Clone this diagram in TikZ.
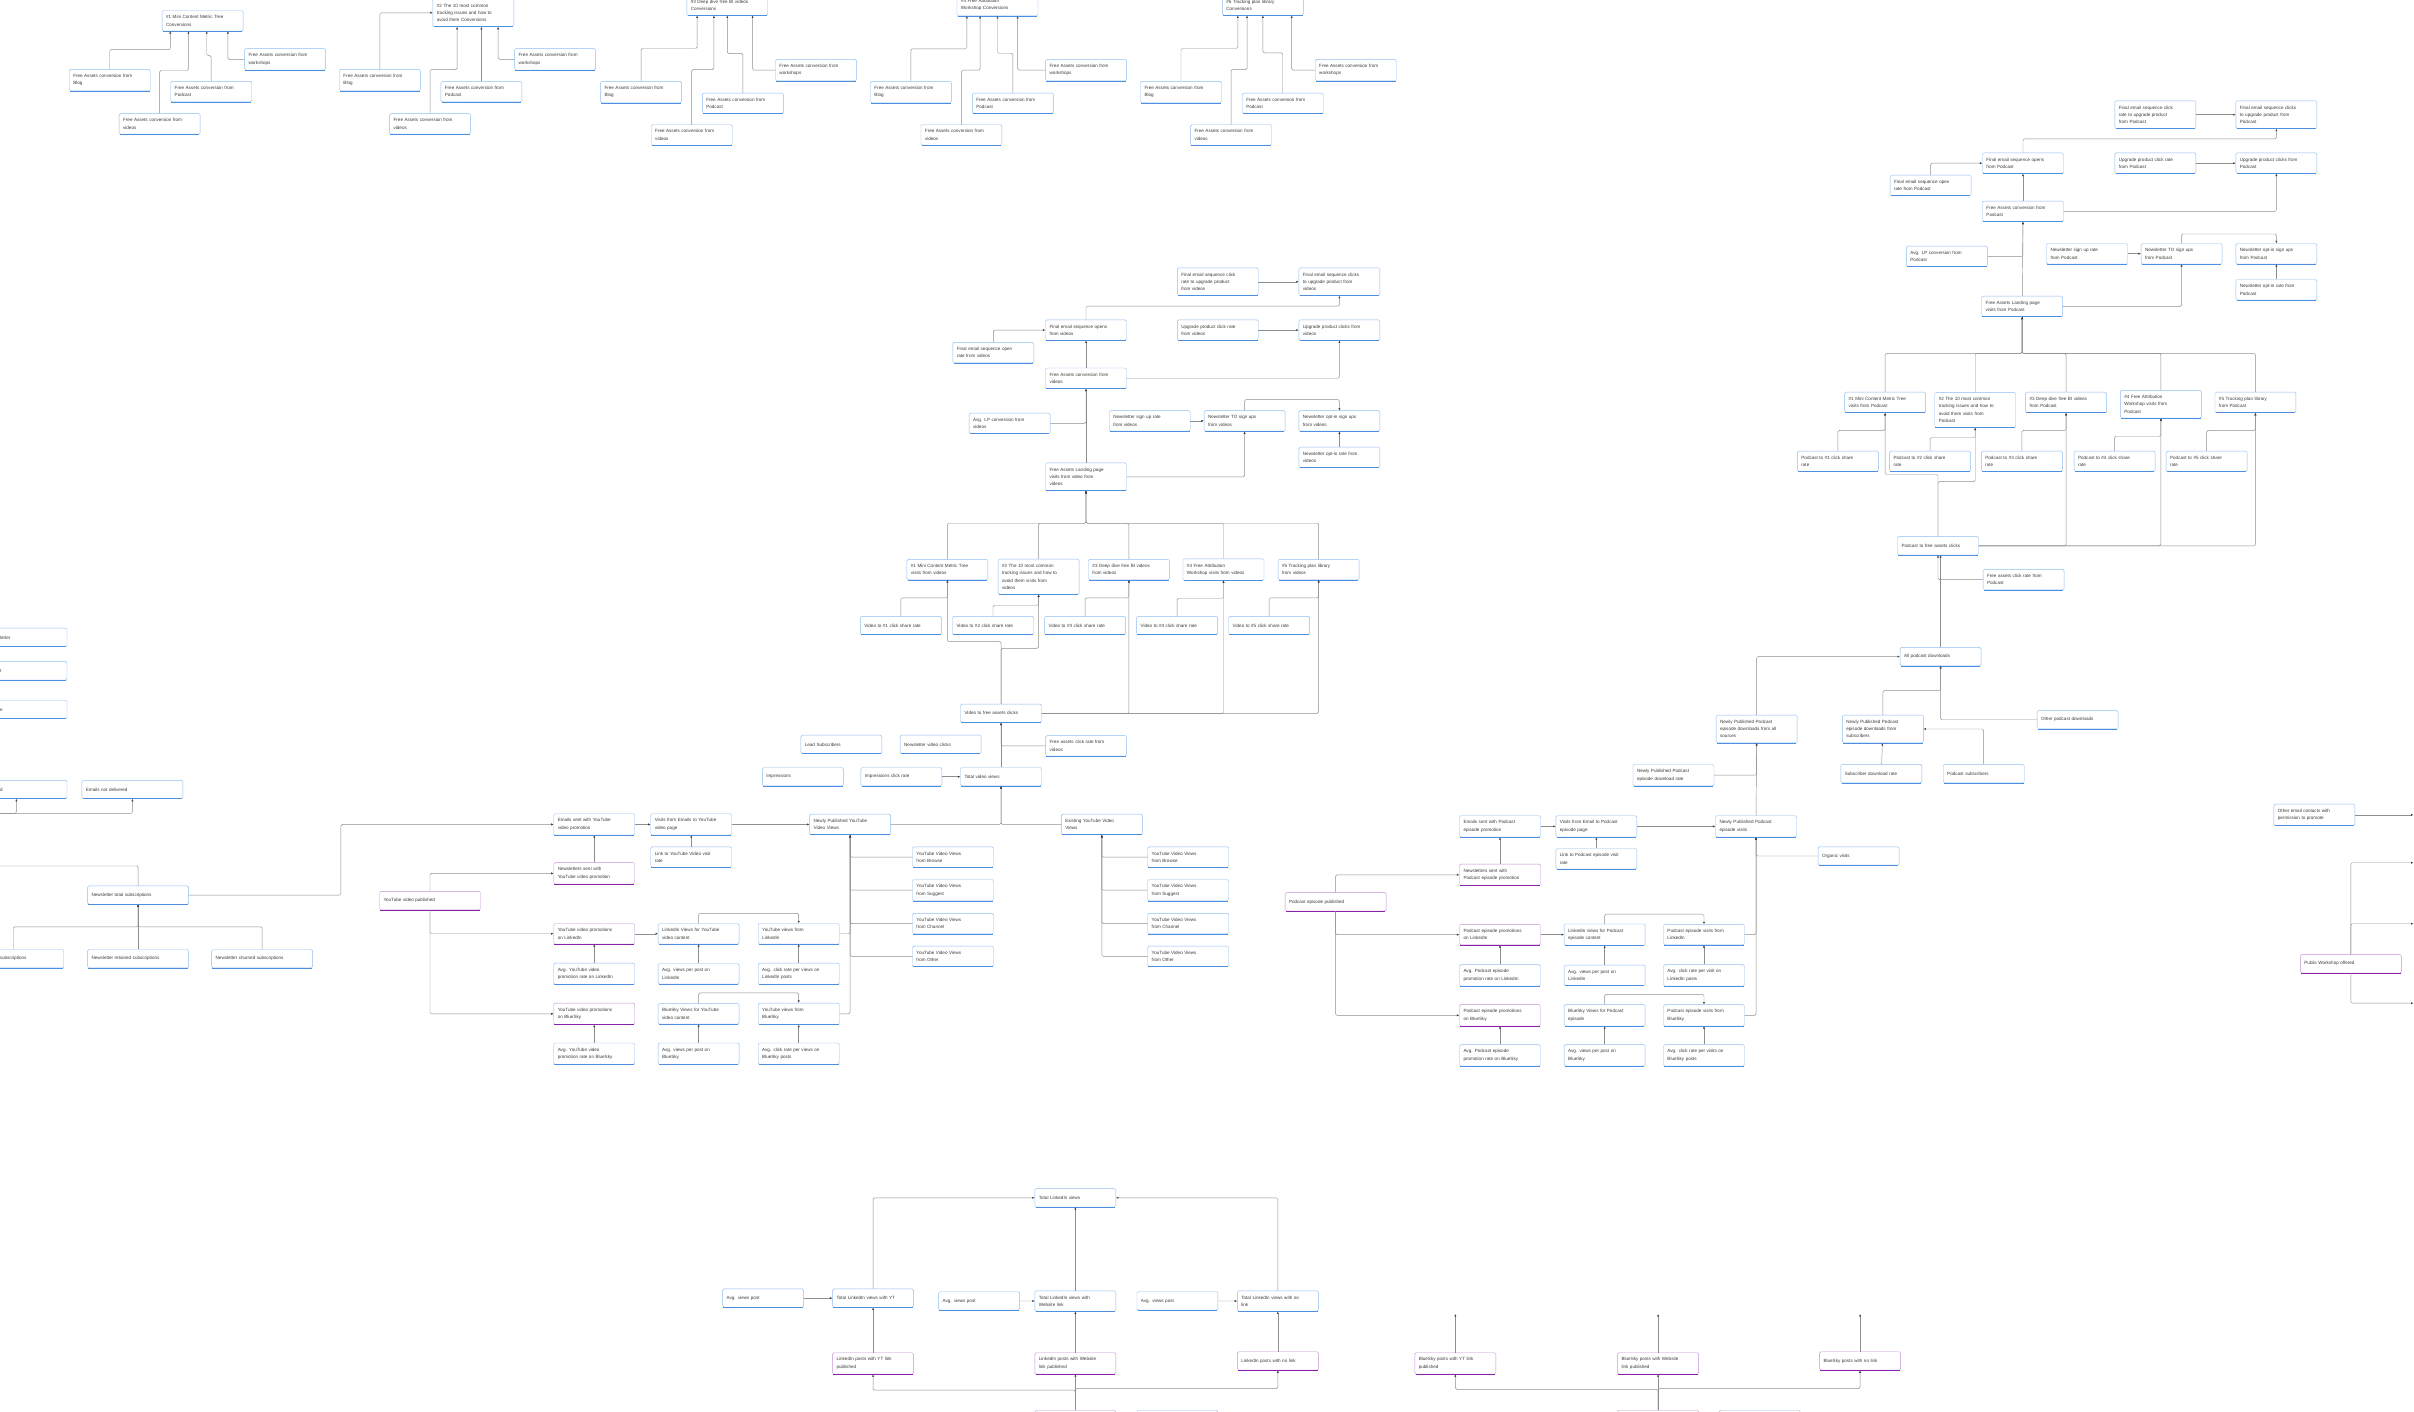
\documentclass[tikz,border=0pt]{standalone}
\usepackage{fontspec}
\setmainfont{Liberation Sans}
\usetikzlibrary{arrows.meta,calc}
\definecolor{bline}{HTML}{8FBDF0}
\definecolor{bedge}{HTML}{4D8FE0}
\definecolor{pline}{HTML}{C690DA}
\definecolor{pedge}{HTML}{8A23A8}
\definecolor{linegray}{HTML}{8E8E8E}
\definecolor{tipgray}{HTML}{3C3C3C}
\definecolor{textgray}{HTML}{3A3A3A}

\begin{document}
\begin{tikzpicture}[
    x=0.077cm, y=-0.077cm,
    base/.style={fill=white, line width=0.6pt, rounded corners=2pt, align=left, text width=3.65cm, inner xsep=0.2cm, inner ysep=7pt, minimum height=0.92cm, font=\fontsize{6.5}{10.4}\selectfont, text=textgray},
    box/.style={base, draw=bline, append after command={(\tikzlastnode.south west) edge[draw=bedge, line width=1.3pt, shorten <=1.3pt, shorten >=1.3pt] (\tikzlastnode.south east)}},
    pbox/.style={base, draw=pline, append after command={(\tikzlastnode.south west) edge[draw=pedge, line width=1.3pt, shorten <=1.3pt, shorten >=1.3pt] (\tikzlastnode.south east)}},
    wide/.style={text width=4.65cm},
    arrow/.style={-{Latex[length=3.4pt,width=3pt,color=tipgray]}, draw=linegray, line width=0.65pt, rounded corners=2pt}
  ]
    \fill[white] (0,0) rectangle (1568,917);
    \useasboundingbox (0,0) rectangle (1568,917);

    % Top conversion groups
    \node[box] (t1) at (131.6,13.5) {\#1 Mini Content Metric Tree\\Conversions};
    \node[box] (t1blog) at (71.3,52) {Free Assets conversion from\\Blog};
    \node[box] (t1pod) at (137.2,59.5) {Free Assets conversion from\\Podcast};
    \node[box] (t1work) at (185.2,38.5) {Free Assets conversion from\\workshops};
    \node[box] (t1vid) at (103.7,80.5) {Free Assets conversion from\\videos};

    \node[box] (t2) at (307.5,8.3) {\#2 The 10 most common\\tracking issues and how to\\avoid them Conversions};
    \node[box] (t2blog) at (246.8,52) {Free Assets conversion from\\Blog};
    \node[box] (t2pod) at (312.7,59.5) {Free Assets conversion from\\Podcast};
    \node[box] (t2work) at (360.6,38.5) {Free Assets conversion from\\workshops};
    \node[box] (t2vid) at (279.4,80.5) {Free Assets conversion from\\videos};

    \node[box] (t3) at (472.4,3.3) {\#3 Deep dive free BI videos\\Conversions};
    \node[box] (t3blog) at (416.4,59.8) {Free Assets conversion from\\Blog};
    \node[box] (t3pod) at (482.5,67.1) {Free Assets conversion from\\Podcast};
    \node[box] (t3work) at (530,45.5) {Free Assets conversion from\\workshops};
    \node[box] (t3vid) at (449.3,87.7) {Free Assets conversion from\\videos};

    \node[box] (t4) at (647.9,3.3) {\#4 Free Attribution\\Workshop Conversions};
    \node[box] (t4blog) at (591.7,59.8) {Free Assets conversion from\\Blog};
    \node[box] (t4pod) at (657.9,67.1) {Free Assets conversion from\\Podcast};
    \node[box] (t4work) at (705.5,45.5) {Free Assets conversion from\\workshops};
    \node[box] (t4vid) at (624.5,87.7) {Free Assets conversion from\\videos};

    \node[box] (t5) at (820.3,3.3) {\#5 Tracking plan library\\Conversions};
    \node[box] (t5blog) at (767.1,59.8) {Free Assets conversion from\\Blog};
    \node[box] (t5pod) at (833.2,67.1) {Free Assets conversion from\\Podcast};
    \node[box] (t5work) at (880.6,45.5) {Free Assets conversion from\\workshops};
    \node[box] (t5vid) at (799.6,87.7) {Free Assets conversion from\\videos};

    % Podcast funnel
    \node[box] (pclickrate) at (1400,74.5) {Final email sequence click\\rate to upgrade product\\from Podcast};
    \node[box] (pclicks) at (1478.6,74.5) {Final email sequence clicks\\to upgrade product from\\Podcast};
    \node[box] (popens) at (1314,106) {Final email sequence opens\\from Podcast};
    \node[box] (pupgrate) at (1400,106) {Upgrade product click rate\\from Podcast};
    \node[box] (pupg) at (1478.6,106) {Upgrade product clicks from\\Podcast};
    \node[box] (popenrate) at (1254,120.4) {Final email sequence open\\rate from Podcast};
    \node[box] (pconv) at (1314,137.3) {Free Assets conversion from\\Podcast};
    \node[box] (plpconv) at (1264.6,166.5) {Avg. LP conversion from\\Podcast};
    \node[box] (psignrate) at (1355.6,164.8) {Newsletter sign up rate\\from Podcast};
    \node[box] (pto) at (1417,164.8) {Newsletter TO sign ups\\from Podcast};
    \node[box] (poptin) at (1478.6,164.8) {Newsletter opt-in sign ups\\from Podcast};
    \node[box] (poptrate) at (1478.6,188.2) {Newsletter opt-in rate from\\Podcast};
    \node[box] (plp) at (1313.5,199) {Free Assets Landing page\\visits from Podcast};

    \node[box] (pp1) at (1224.5,261.4) {\#1 Mini Content Metric Tree\\visits from Podcast};
    \node[box] (pp2) at (1283,266.3) {\#2 The 10 most common\\tracking issues and how to\\avoid them visits from\\Podcast};
    \node[box] (pp3) at (1342,261.4) {\#3 Deep dive free BI videos\\from Podcast};
    \node[box] (pp4) at (1403.6,262.6) {\#4 Free Attribution\\Workshop visits from\\Podcast};
    \node[box] (pp5) at (1465,261.4) {\#5 Tracking plan library\\from Podcast};
    \node[box] (ps1) at (1193.8,299.7) {Podcast to \#1 click share\\rate};
    \node[box] (ps2) at (1253.7,299.7) {Podcast to \#2 click share\\rate};
    \node[box] (ps3) at (1313.3,299.7) {Podcast to \#3 click share\\rate};
    \node[box] (ps4) at (1373.5,299.7) {Podcast to \#4 click share\\rate};
    \node[box] (ps5) at (1433.3,299.7) {Podcast to \#5 click share\\rate};
    \node[box] (pfree) at (1258.8,354.5) {Podcast to free assets clicks};
    \node[box] (pfreerate) at (1314.4,376.5) {Free assets click rate from\\Podcast};
    \node[box] (pall) at (1260.5,426.5) {All podcast downloads};

    % Podcast downloads
    \node[box] (pdlall) at (1141,473.5) {Newly Published Podcast\\episode downloads from all\\sources};
    \node[box] (pdlrate) at (1087,503.5) {Newly Published Podcast\\episode download rate};
    \node[box] (pdlsub) at (1223,473.5) {Newly Published Podcast\\episode downloads from\\subscribers};
    \node[box] (psubrate) at (1222,502.5) {Subscriber download rate};
    \node[box] (psubs) at (1288.5,502.5) {Podcast subscribers};
    \node[box] (pother) at (1349.5,467.5) {Other podcast downloads};

    % Video funnel
    \node[box] (vclickrate) at (791,183) {Final email sequence click\\rate to upgrade product\\from videos};
    \node[box] (vclicks) at (870,183) {Final email sequence clicks\\to upgrade product from\\videos};
    \node[box] (vopens) at (705.4,214.4) {Final email sequence opens\\from videos};
    \node[box] (vupgrate) at (791,214.4) {Upgrade product click rate\\from videos};
    \node[box] (vupg) at (870,214.4) {Upgrade product clicks from\\videos};
    \node[box] (vopenrate) at (645.2,229) {Final email sequence open\\rate from videos};
    \node[box] (vconv) at (705.4,245.7) {Free Assets conversion from\\videos};
    \node[box] (vlpconv) at (655.8,275) {Avg. LP conversion from\\videos};
    \node[box] (vsignrate) at (746.8,273.4) {Newsletter sign up rate\\from videos};
    \node[box] (vto) at (808.4,273.4) {Newsletter TO sign ups\\from videos};
    \node[box] (voptin) at (870,273.4) {Newsletter opt-in sign ups\\from videos};
    \node[box] (voptrate) at (870,297.1) {Newsletter opt-in rate from\\videos};
    \node[box] (vlp) at (705.4,309.7) {Free Assets Landing page\\visits from video from\\videos};

    \node[box] (v1) at (615.4,370) {\#1 Mini Content Metric Tree\\visits from videos};
    \node[box] (v2) at (674.6,374.6) {\#2 The 10 most common\\tracking issues and how to\\avoid them visits from\\videos};
    \node[box] (v3) at (733.3,370) {\#3 Deep dive free BI videos\\from videos};
    \node[box] (v4) at (794.7,370) {\#4 Free Attribution\\Workshop visits from videos};
    \node[box] (v5) at (856.5,370) {\#5 Tracking plan library\\from videos};
    \node[box] (vs1) at (585.2,406.3) {Video to \#1 click share rate};
    \node[box] (vs2) at (645,406.3) {Video to \#2 click share rate};
    \node[box] (vs3) at (704.8,406.3) {Video to \#3 click share rate};
    \node[box] (vs4) at (764.6,406.3) {Video to \#4 click share rate};
    \node[box] (vs5) at (824.4,406.3) {Video to \#5 click share rate};
    \node[box] (vfree) at (650.2,463.3) {Video to free assets clicks};
    \node[box] (vfreerate) at (705.5,484.5) {Free assets click rate from\\videos};
    \node[box] (vleads) at (546.5,483.5) {Lead Subscribers};
    \node[box] (vnlclicks) at (611,483.5) {Newsletter video clicks};
    \node[box] (vimpr) at (521.5,504.5) {Impressions};
    \node[box] (vctr) at (585.5,504.5) {Impressions click rate};
    \node[box] (vtotal) at (650.2,504.5) {Total video views};

    % YouTube promotion
    \node[box] (yemails) at (386,535.5) {Emails sent with YouTube\\video promotion};
    \node[box] (yvisits) at (449,535.5) {Visits from Emails to YouTube\\video page};
    \node[box] (ylinkrate) at (449,556.7) {Link to YouTube Video visit\\rate};
    \node[box] (ynew) at (552.2,535.5) {Newly Published YouTube\\Video Views};
    \node[box] (yexist) at (715.7,535.5) {Existing YouTube Video\\Views};
    \node[pbox] (ynl) at (386,567.3) {Newsletters sent with\\YouTube video promotion};
    \node[pbox, wide] (ypub) at (279.3,585) {YouTube video published};
    \node[pbox] (yli) at (386,606.5) {YouTube video promotions\\on LinkedIn};
    \node[box] (ylivw) at (453.8,606.5) {LinkedIn Views for YouTube\\video content};
    \node[box] (yfromli) at (518.8,606.5) {YouTube views from\\LinkedIn};
    \node[box] (yavgli) at (386,632.5) {Avg. YouTube video\\promotion rate on LinkedIn};
    \node[box] (yviewsli) at (453.8,632.5) {Avg. views per post on\\LinkedIn};
    \node[box] (yclickli) at (518.8,632.5) {Avg. click rate per views on\\LinkedIn posts};
    \node[pbox] (ybs) at (386,658.5) {YouTube video promotions\\on BlueSky};
    \node[box] (ybsvw) at (453.8,658.5) {BlueSky Views for YouTube\\video content};
    \node[box] (yfrombs) at (518.8,658.5) {YouTube views from\\BlueSky};
    \node[box] (yavgbs) at (386,684.4) {Avg. YouTube video\\promotion rate on BlueSky};
    \node[box] (yviewsbs) at (453.8,684.4) {Avg. views per post on\\BlueSky};
    \node[box] (yclickbs) at (518.8,684.4) {Avg. click rate per views on\\BlueSky posts};
    \node[box] (ybrowse) at (619,556.7) {YouTube Video Views\\from Browse};
    \node[box] (ysuggest) at (619,578.2) {YouTube Video Views\\from Suggest};
    \node[box] (ychannel) at (619,599.9) {YouTube Video Views\\from Channel};
    \node[box] (yother) at (619,621.2) {YouTube Video Views\\from Other};
    \node[box] (ebrowse) at (771.8,556.7) {YouTube Video Views\\from Browse};
    \node[box] (esuggest) at (771.8,578.2) {YouTube Video Views\\from Suggest};
    \node[box] (echannel) at (771.8,599.9) {YouTube Video Views\\from Channel};
    \node[box] (eother) at (771.8,621.2) {YouTube Video Views\\from Other};

    % Newsletter
    \node[box, wide] (nl1) at (10.7,414) {Clicks in Newsletter};
    \node[box, wide] (nl2) at (10.7,435.7) {Newsletter cost};
    \node[box, wide] (nl3) at (10.7,460.8) {Newsletter Rate};
    \node[box, wide] (nbounce) at (10.7,512.8) {Emails bounced};
    \node[box, wide] (nnotdel) at (86,512.8) {Emails not delivered};
    \node[box, wide] (ntotal) at (89.7,581.4) {Newsletter total subscriptions};
    \node[box, wide] (nnew) at (8.6,622.7) {Newsletter new subscriptions};
    \node[box, wide] (nret) at (89.7,622.7) {Newsletter retained subscriptions};
    \node[box, wide] (nchurn) at (170.3,622.7) {Newsletter churned subscriptions};
    \coordinate (nlout) at (-30,562.5);
    \coordinate (nlin) at (-30,528.3);

    % Podcast promotion
    \node[box] (pemails) at (974.3,536.8) {Emails sent with Podcast\\episode promotion};
    \node[box] (pvisits) at (1036.9,536.8) {Visits from Email to Podcast\\episode page};
    \node[box] (plinkrate) at (1036.9,557.8) {Link to Podcast episode visit\\rate};
    \node[box] (pnew) at (1140.6,536.8) {Newly Published Podcast\\episode visits};
    \node[box] (porganic) at (1207.2,556) {Organic visits};
    \node[pbox] (pnl) at (974.3,568.2) {Newsletters sent with\\Podcast episode promotion};
    \node[pbox, wide] (ppub) at (867.5,585.8) {Podcast episode published};
    \node[pbox] (pli) at (974.3,607.1) {Podcast episode promotions\\on LinkedIn};
    \node[box] (plivw) at (1042.3,607.1) {LinkedIn views for Podcast\\episode content};
    \node[box] (pfromli) at (1106.8,607.1) {Podcast episode visits from\\LinkedIn};
    \node[box] (pavgli) at (974.3,633.5) {Avg. Podcast episode\\promotion rate on LinkedIn};
    \node[box] (pviewsli) at (1042.3,633.5) {Avg. views per post on\\LinkedIn};
    \node[box] (pclickli) at (1106.8,633.5) {Avg. click rate per visit on\\LinkedIn posts};
    \node[pbox] (pbs) at (974.3,659.5) {Podcast episode promotions\\on BlueSky};
    \node[box] (pbsvw) at (1042.3,659.5) {BlueSky Views for Podcast\\episode};
    \node[box] (pfrombs) at (1106.8,659.5) {Podcast episode visits from\\BlueSky};
    \node[box] (pavgbs) at (974.3,685.5) {Avg. Podcast episode\\promotion rate on BlueSky};
    \node[box] (pviewsbs) at (1042.3,685.5) {Avg. views per post on\\BlueSky};
    \node[box] (pclickbs) at (1106.8,685.5) {Avg. click rate per visits on\\BlueSky posts};

    % Workshop
    \node[box] (oemail) at (1503.3,529.3) {Other email contacts with\\permission to promote};
    \node[pbox, wide] (pubws) at (1527,626) {Public Workshop offered};
    \coordinate (wsout0) at (1567.6,529.3);
    \coordinate (wsout1) at (1567.6,560.4);
    \coordinate (wsout2) at (1567.6,600);
    \coordinate (wsout3) at (1567.6,651.6);

    % LinkedIn posts
    \node[box] (ltotal) at (698.5,778) {Total LinkedIn views};
    \node[box] (lavg1) at (495.7,843.2) {Avg. views post};
    \node[box] (lyt) at (567.1,843.2) {Total LinkedIn views with YT};
    \node[box] (lavg2) at (636,845) {Avg. views post};
    \node[box] (lweb) at (698.5,845.1) {Total LinkedIn views with\\Website link};
    \node[box] (lavg3) at (764.8,845) {Avg. views post};
    \node[box] (lno) at (830,845.1) {Total LinkedIn views with no\\link};
    \node[pbox] (lpyt) at (567.1,885.6) {LinkedIn posts with YT link\\published};
    \node[pbox] (lpweb) at (698.5,885.6) {LinkedIn posts with Website\\link published};
    \node[pbox] (lpno) at (830,884) {LinkedIn posts with no link};
    \node[pbox] (lsrc) at (698.5,922) {};
    \node[box] (lsrc2) at (764.8,922) {};

    % BlueSky posts
    \node[pbox] (bpyt) at (945.3,885.6) {BlueSky posts with YT link\\published};
    \node[pbox] (bpweb) at (1077,885.6) {BlueSky posts with Website\\link published};
    \node[pbox] (bpno) at (1208.2,884) {BlueSky posts with no link};
    \node[pbox] (bsrc) at (1077,922) {};
    \node[box] (bsrc2) at (1142.9,922) {};
    \coordinate (bpytup) at (945.3,853.5);
    \coordinate (bpwebup) at (1077,853.5);
    \coordinate (bpnoup) at (1208.2,853.5);

    % Arrows: top conversion groups
    \draw[arrow] (t1blog.north) |- ($(t1.south)+(-21,12)$) -- ($(t1.south)+(-21,0)$);
    \draw[arrow] (t1vid.north) |- ($(t1.south)+(-9.2,25.5)$) -- ($(t1.south)+(-9.2,0)$);
    \draw[arrow] (t1pod.north) |- ($(t1.south)+(2.7,15.8)$) -- ($(t1.south)+(2.7,0)$);
    \draw[arrow] (t1work.west) -| ($(t1.south)+(16.4,0)$);

    \draw[arrow] (t2blog.north) |- (t2.west);
    \draw[arrow] (t2vid.north) |- ($(t2.south)+(-10.6,27.7)$) -- ($(t2.south)+(-10.6,0)$);
    \draw[arrow] (t2pod.north) -- (t2pod.north |- t2.south);
    \draw[arrow] (t2work.west) -| ($(t2.south)+(16,0)$);

    \draw[arrow] (t3blog.north) |- ($(t3.south)+(-19.6,21.4)$) -- ($(t3.south)+(-19.6,0)$);
    \draw[arrow] (t3vid.north) |- ($(t3.south)+(-8.7,35.1)$) -- ($(t3.south)+(-8.7,0)$);
    \draw[arrow] (t3pod.north) |- ($(t3.south)+(0,24.6)$) -- (t3.south);
    \draw[arrow] (t3work.west) -| ($(t3.south)+(16.4,0)$);

    \draw[arrow] (t4blog.north) |- ($(t4.south)+(-19.9,21.4)$) -- ($(t4.south)+(-19.9,0)$);
    \draw[arrow] (t4vid.north) |- ($(t4.south)+(-11.3,35.1)$) -- ($(t4.south)+(-11.3,0)$);
    \draw[arrow] (t4pod.north) |- ($(t4.south)+(0,24.2)$) -- (t4.south);
    \draw[arrow] (t4work.west) -| ($(t4.south)+(13.1,0)$);

    \draw[arrow] (t5blog.north) |- ($(t5.south)+(-16.3,21.4)$) -- ($(t5.south)+(-16.3,0)$);
    \draw[arrow] (t5vid.north) |- ($(t5.south)+(-10.3,35.1)$) -- ($(t5.south)+(-10.3,0)$);
    \draw[arrow] (t5pod.north) |- ($(t5.south)+(0,24.2)$) -- (t5.south);
    \draw[arrow] (t5work.west) -| ($(t5.south)+(18.7,0)$);

    % Arrows: podcast funnel
    \draw[arrow] (pclickrate) -- (pclicks);
    \draw[arrow] (pupgrate) -- (pupg);
    \draw[arrow] (popens.north) |- ($(pclicks.south)+(0,6.5)$) -- (pclicks.south);
    \draw[arrow] (popenrate.north) |- (popens.west);
    \draw[arrow] (pconv) -- (popens);
    \draw[arrow] (pconv.east) -| (pupg.south);
    \draw[arrow] (plpconv.east) -| (pconv.south);
    \draw[arrow] (plp) -- (pconv);
    \draw[arrow] (plp.east) -| (pto.south);
    \draw[arrow] (psignrate) -- (pto);
    \draw[arrow] (pto.north) |- ($(poptin.north)+(0,-6)$) -- (poptin.north);
    \draw[arrow] (poptrate) -- (poptin);
    \draw[arrow] (pp1.north) |- ($(plp.south)+(0,23.8)$) -- (plp.south);
    \draw[arrow] (pp2.north) |- ($(plp.south)+(0,23.8)$) -- (plp.south);
    \draw[arrow] (pp3.north) |- ($(plp.south)+(0,23.8)$) -- (plp.south);
    \draw[arrow] (pp4.north) |- ($(plp.south)+(0,23.8)$) -- (plp.south);
    \draw[arrow] (pp5.north) |- ($(plp.south)+(0,23.8)$) -- (plp.south);
    \draw[arrow] (ps1.north) |- ($(pp1.south)+(0,11.4)$) -- (pp1.south);
    \draw[arrow] (ps2.north) |- ($(pp2.south)+(0,6.5)$) -- (pp2.south);
    \draw[arrow] (ps3.north) |- ($(pp3.south)+(0,11.4)$) -- (pp3.south);
    \draw[arrow] (ps4.north) |- ($(pp4.south)+(0,11.6)$) -- (pp4.south);
    \draw[arrow] (ps5.north) |- ($(pp5.south)+(0,11.4)$) -- (pp5.south);
    \draw[arrow] (pfree.north) |- ($(pp1.south)+(0,40)$) -- (pp1.south);
    \draw[arrow] (pfree.north) |- ($(pp2.south)+(0,35)$) -- (pp2.south);
    \draw[arrow] (pfree.east) -| (pp3.south);
    \draw[arrow] (pfree.east) -| (pp4.south);
    \draw[arrow] (pfree.east) -| (pp5.south);
    \draw[arrow] (pfreerate.west) -| (pfree.south);
    \draw[arrow] (pall.north) -- (pall.north |- pfree.south);

    % Arrows: podcast downloads
    \draw[arrow] (pdlall.north) |- (pall.west);
    \draw[arrow] (pdlsub.north) |- ($(pall.south)+(0,16)$) -- (pall.south);
    \draw[arrow] (pother.west) -| (pall.south);
    \draw[arrow] (pdlrate.east) -| (pdlall.south);
    \draw[arrow] (pnew) -- (pdlall);
    \draw[arrow] (psubrate) -- (pdlsub);
    \draw[arrow] (psubs.north) |- (pdlsub.east);

    % Arrows: video funnel
    \draw[arrow] (vclickrate) -- (vclicks);
    \draw[arrow] (vupgrate) -- (vupg);
    \draw[arrow] (vopens.north) |- ($(vclicks.south)+(0,6.7)$) -- (vclicks.south);
    \draw[arrow] (vopenrate.north) |- (vopens.west);
    \draw[arrow] (vconv) -- (vopens);
    \draw[arrow] (vconv.east) -| (vupg.south);
    \draw[arrow] (vlpconv.east) -| (vconv.south);
    \draw[arrow] (vlp) -- (vconv);
    \draw[arrow] (vlp.east) -| (vto.south);
    \draw[arrow] (vsignrate) -- (vto);
    \draw[arrow] (vto.north) |- ($(voptin.north)+(0,-7)$) -- (voptin.north);
    \draw[arrow] (voptrate) -- (voptin);
    \draw[arrow] (v1.north) |- ($(vlp.south)+(0,21)$) -- (vlp.south);
    \draw[arrow] (v2.north) |- ($(vlp.south)+(0,21)$) -- (vlp.south);
    \draw[arrow] (v3.north) |- ($(vlp.south)+(0,21)$) -- (vlp.south);
    \draw[arrow] (v4.north) |- ($(vlp.south)+(0,21)$) -- (vlp.south);
    \draw[arrow] (v5.north) |- ($(vlp.south)+(0,21)$) -- (vlp.south);
    \draw[arrow] (vs1.north) |- ($(v1.south)+(0,11.5)$) -- (v1.south);
    \draw[arrow] (vs2.north) |- ($(v2.south)+(0,7)$) -- (v2.south);
    \draw[arrow] (vs3.north) |- ($(v3.south)+(0,11.5)$) -- (v3.south);
    \draw[arrow] (vs4.north) |- ($(v4.south)+(0,11.5)$) -- (v4.south);
    \draw[arrow] (vs5.north) |- ($(v5.south)+(0,11.5)$) -- (v5.south);
    \draw[arrow] (vfree.north) |- ($(v1.south)+(0,40)$) -- (v1.south);
    \draw[arrow] (vfree.north) |- ($(v2.south)+(0,35)$) -- (v2.south);
    \draw[arrow] (vfree.east) -| (v3.south);
    \draw[arrow] (vfree.east) -| (v4.south);
    \draw[arrow] (vfree.east) -| (v5.south);
    \draw[arrow] (vfreerate.west) -| (vfree.south);
    \draw[arrow] (vtotal) -- (vfree);
    \draw[arrow] (vctr) -- (vtotal);
    \draw[arrow] (ynew.east) -| (vtotal.south);
    \draw[arrow] (yexist.west) -| (vtotal.south);

    % Arrows: YouTube promotion
    \draw[arrow] (yemails) -- (yvisits);
    \draw[arrow] (yvisits) -- (ynew);
    \draw[arrow] (ylinkrate) -- (yvisits);
    \draw[arrow] (ynl) -- (yemails);
    \draw[arrow] (ypub.north) |- (ynl.west);
    \draw[arrow] (ypub.south) |- (yli.west);
    \draw[arrow] (ypub.south) |- (ybs.west);
    \draw[arrow] (yavgli) -- (yli);
    \draw[arrow] (yli) -- (ylivw);
    \draw[arrow] (ylivw.north) |- ($(yfromli.north)+(0,-6.5)$) -- (yfromli.north);
    \draw[arrow] (yviewsli) -- (ylivw);
    \draw[arrow] (yclickli) -- (yfromli);
    \draw[arrow] (yavgbs) -- (ybs);
    \draw[arrow] (ybsvw.north) |- ($(yfrombs.north)+(0,-6.5)$) -- (yfrombs.north);
    \draw[arrow] (yviewsbs) -- (ybsvw);
    \draw[arrow] (yclickbs) -- (yfrombs);
    \draw[arrow] (yfromli.east) -| (ynew.south);
    \draw[arrow] (yfrombs.east) -| (ynew.south);
    \draw[arrow] (ybrowse.west) -| (ynew.south);
    \draw[arrow] (ysuggest.west) -| (ynew.south);
    \draw[arrow] (ychannel.west) -| (ynew.south);
    \draw[arrow] (yother.west) -| (ynew.south);
    \draw[arrow] (ebrowse.west) -| (yexist.south);
    \draw[arrow] (esuggest.west) -| (yexist.south);
    \draw[arrow] (echannel.west) -| (yexist.south);
    \draw[arrow] (eother.west) -| (yexist.south);

    % Arrows: newsletter
    \draw[arrow] (nnew.north) |- ($(ntotal.south)+(0,14.5)$) -- (ntotal.south);
    \draw[arrow] (nret) -- (ntotal);
    \draw[arrow] (nchurn.north) |- ($(ntotal.south)+(0,14.5)$) -- (ntotal.south);
    \draw[arrow] (ntotal.north) |- (nlout);
    \draw[arrow] (ntotal.east) -- ++(98.8,0) |- (yemails.west);
    \draw[arrow] (nlin) -| (nbounce.south);
    \draw[arrow] (nlin) -| (nnotdel.south);

    % Arrows: podcast promotion
    \draw[arrow] (pemails) -- (pvisits);
    \draw[arrow] (pvisits) -- (pnew);
    \draw[arrow] (plinkrate) -- (pvisits);
    \draw[arrow] (porganic.west) -| (pnew.south);
    \draw[arrow] (pnl) -- (pemails);
    \draw[arrow] (ppub.north) |- (pnl.west);
    \draw[arrow] (ppub.south) |- (pli.west);
    \draw[arrow] (ppub.south) |- (pbs.west);
    \draw[arrow] (pavgli) -- (pli);
    \draw[arrow] (pli) -- (plivw);
    \draw[arrow] (plivw.north) |- ($(pfromli.north)+(0,-6.5)$) -- (pfromli.north);
    \draw[arrow] (pviewsli) -- (plivw);
    \draw[arrow] (pclickli) -- (pfromli);
    \draw[arrow] (pavgbs) -- (pbs);
    \draw[arrow] (pbsvw.north) |- ($(pfrombs.north)+(0,-6.5)$) -- (pfrombs.north);
    \draw[arrow] (pviewsbs) -- (pbsvw);
    \draw[arrow] (pclickbs) -- (pfrombs);
    \draw[arrow] (pfromli.east) -| (pnew.south);
    \draw[arrow] (pfrombs.east) -| (pnew.south);

    % Arrows: workshop
    \draw[arrow] (oemail.east) -- (wsout0);
    \draw[arrow] (pubws.north) |- (wsout1);
    \draw[arrow] (pubws.north) |- (wsout2);
    \draw[arrow] (pubws.south) |- (wsout3);

    % Arrows: LinkedIn and BlueSky posts
    \draw[arrow] (lyt.north) |- (ltotal.west);
    \draw[arrow] (lweb) -- (ltotal);
    \draw[arrow] (lno.north) |- (ltotal.east);
    \draw[arrow] (lavg1) -- (lyt);
    \draw[arrow] (lavg2) -- (lweb);
    \draw[arrow] (lavg3) -- (lno);
    \draw[arrow] (lpyt) -- (lyt);
    \draw[arrow] (lpweb) -- (lweb);
    \draw[arrow] (lpno) -- (lno);
    \draw[arrow] (lsrc.north) |- ($(lpyt.south)+(0,10.3)$) -- (lpyt.south);
    \draw[arrow] (lsrc) -- (lpweb);
    \draw[arrow] (lsrc.north) |- ($(lpno.south)+(0,11.8)$) -- (lpno.south);
    \draw[arrow] (bpyt) -- (bpytup);
    \draw[arrow] (bpweb) -- (bpwebup);
    \draw[arrow] (bpno) -- (bpnoup);
    \draw[arrow] (bsrc.north) |- ($(bpyt.south)+(0,9.7)$) -- (bpyt.south);
    \draw[arrow] (bsrc) -- (bpweb);
    \draw[arrow] (bsrc.north) |- ($(bpno.south)+(0,11.8)$) -- (bpno.south);
  \end{tikzpicture}
\end{document}
